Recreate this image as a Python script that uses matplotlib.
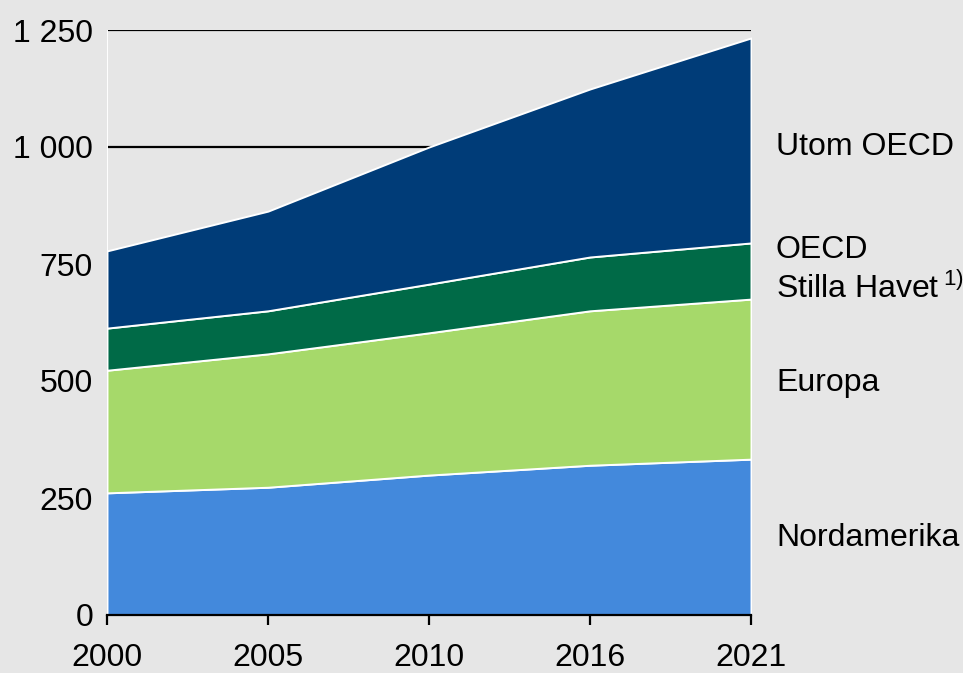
import numpy as np
import matplotlib
matplotlib.use("Agg")
import matplotlib.pyplot as plt

plt.rcParams['font.family'] = ['Liberation Sans', 'DejaVu Sans']
plt.rcParams['mathtext.fontset'] = 'custom'
plt.rcParams['mathtext.rm'] = 'Liberation Sans'

years = ['2000', '2005', '2010', '2016', '2021']
nordamerika = [261, 273, 299, 320, 333]
europa = [262, 285, 304, 330, 342]
oecd_stilla = [90, 92, 104, 115, 120]
utom_oecd = [165, 213, 293, 359, 438]

series = [nordamerika, europa, oecd_stilla, utom_oecd]
colors = ['#4389dc', '#a6d96a', '#006a47', '#003c78']
labels = ['Nordamerika', 'Europa', 'OECD\nStilla Havet$\\,^{1)}$', 'Utom OECD']
yticks = [0, 250, 500, 750, 1000, 1250]
ytick_labels = ['0', '250', '500', '750', '1 000', '1 250']

bg = '#e6e6e6'
fs = 23
fig = plt.figure(figsize=(9.63, 6.73), dpi=100, facecolor=bg)
ax = fig.add_axes([107/963, 58/673, 644/963, 585/673])
ax.set_facecolor(bg)

x = np.arange(len(years))
for yv in yticks[1:]:
    ax.axhline(yv, color='black', lw=1.6, zorder=1)

ax.stackplot(x, *series, colors=colors, edgecolor='white', linewidth=1.4, zorder=2)
ax.axvline(0, color='white', lw=1.4, zorder=3)

ax.set_xlim(0, 4)
ax.set_ylim(0, 1250)
ax.set_xticks(x)
ax.set_xticklabels(years, fontsize=fs)
ax.set_yticks(yticks)
ax.set_yticklabels(ytick_labels, fontsize=fs)
ax.set_yticks([0], minor=True)
ax.tick_params(axis='y', which='major', length=0, pad=10)
ax.tick_params(axis='y', which='minor', length=6.5, width=1.6)
ax.tick_params(axis='x', length=7, width=1.6, pad=13)

for s in ['top', 'right', 'left']:
    ax.spines[s].set_visible(False)
ax.spines['bottom'].set_linewidth(1.6)
ax.spines['bottom'].set_zorder(4)

# labels at right of stacks
label_y = [165, 496, 737, 1000]
for lab, ly in zip(labels, label_y):
    ax.text(4.155, ly, lab, fontsize=fs, va='center', ha='left',
            linespacing=1.3, clip_on=False)

fig.savefig('out.png', dpi=100, facecolor=bg)
